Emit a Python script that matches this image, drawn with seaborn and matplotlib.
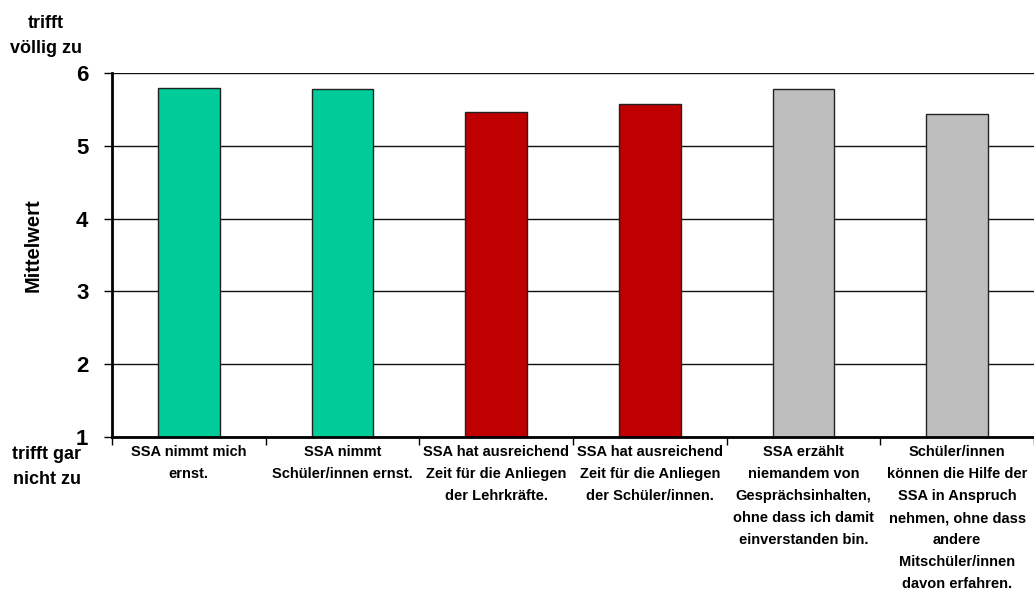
import matplotlib
matplotlib.use("Agg")
import matplotlib.pyplot as plt
import seaborn as sns
import pandas as pd
from matplotlib.ticker import FixedLocator

categories = [
    "SSA nimmt mich\nernst.",
    "SSA nimmt\nSchüler/innen ernst.",
    "SSA hat ausreichend\nZeit für die Anliegen\nder Lehrkräfte.",
    "SSA hat ausreichend\nZeit für die Anliegen\nder Schüler/innen.",
    "SSA erzählt\nniemandem von\nGesprächsinhalten,\nohne dass ich damit\neinverstanden bin.",
    "Schüler/innen\nkönnen die Hilfe der\nSSA in Anspruch\nnehmen, ohne dass\nandere\nMitschüler/innen\ndavon erfahren.",
]
values = [5.79, 5.78, 5.47, 5.58, 5.78, 5.44]
colors = ["#00CC99", "#00CC99", "#C00000", "#C00000", "#BEBEBE", "#BEBEBE"]
yticks = [1, 2, 3, 4, 5, 6]

sns.set_style("white")
plt.rcParams["font.family"] = ["Liberation Sans Narrow", "Liberation Sans", "DejaVu Sans"]
plt.rcParams["font.weight"] = "bold"
for k in ["text.color", "axes.labelcolor", "xtick.color", "ytick.color"]:
    plt.rcParams[k] = "black"

fig = plt.figure(figsize=(10.34, 5.92), dpi=100)
ax = fig.add_axes([112 / 1034, 1 - 437 / 592, (1034 - 112) / 1034, (437 - 73) / 592])

df = pd.DataFrame({"cat": categories, "val": values})
sns.barplot(data=df, x="cat", y="val", hue="cat", palette=colors, width=0.4,
            saturation=1, edgecolor="#222222", linewidth=1.0, legend=False, ax=ax, zorder=3)

ax.set_ylim(1, 6)
ax.set_xlim(-0.5, len(categories) - 0.5)
ax.set_yticks(yticks)
ax.set_yticklabels([str(t) for t in yticks], fontsize=16, fontweight="bold")
ax.yaxis.grid(True, color="#111111", linewidth=1.0, zorder=0)
ax.set_axisbelow(True)

ax.set_xticks(range(len(categories)))
ax.set_xticklabels(categories, fontsize=10.5, fontweight="bold", linespacing=1.72, va="top")
ax.tick_params(axis="x", which="major", length=0, pad=6)
ax.xaxis.set_minor_locator(FixedLocator([i + 0.5 for i in range(-1, len(categories))]))
ax.tick_params(axis="x", which="minor", length=6, width=1, color="black", direction="out", bottom=True)
ax.tick_params(axis="y", which="major", length=6, width=1, color="black", direction="out", left=True, pad=11)

for s in ["top", "right"]:
    ax.spines[s].set_visible(False)
for s in ["left", "bottom"]:
    ax.spines[s].set_color("black")
    ax.spines[s].set_linewidth(2.0)
    ax.spines[s].set_zorder(4)

ax.set_xlabel("")
ax.set_ylabel("Mittelwert", fontsize=14.5, fontweight="bold")
ax.yaxis.set_label_coords((43 - 112) / 922, (437 - 245) / 364)

fig.text(46 / 1034, 1 - 36 / 592, "trifft\nvöllig zu", ha="center", va="center",
         fontsize=13, fontweight="bold", linespacing=1.65)
fig.text(47 / 1034, 1 - 467 / 592, "trifft gar\nnicht zu", ha="center", va="center",
         fontsize=13, fontweight="bold", linespacing=1.65)

fig.savefig("out.png", dpi=100)
